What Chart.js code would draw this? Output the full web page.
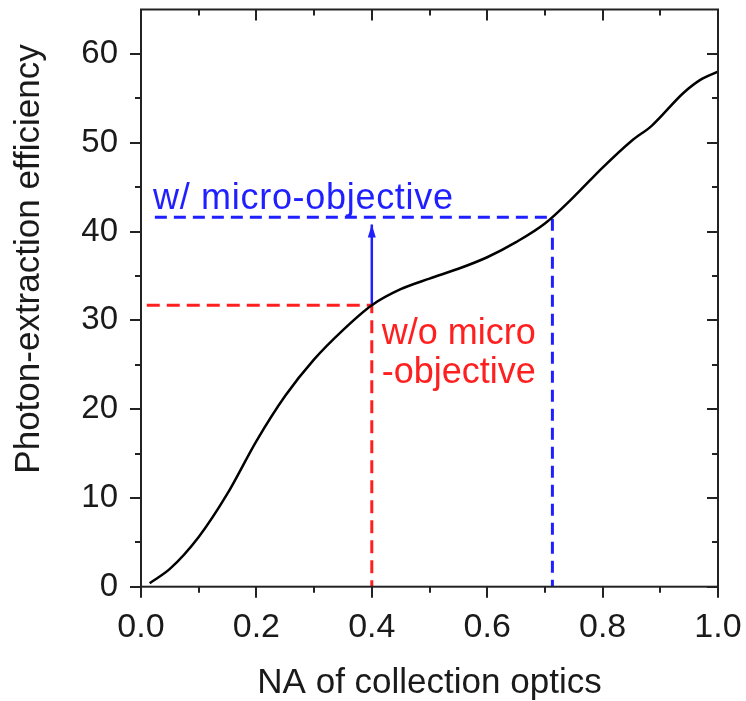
<!DOCTYPE html>
<html>
<head>
<meta charset="utf-8">
<script src="https://cdn.jsdelivr.net/npm/chart.js@4.4.1/dist/chart.umd.min.js"></script>
<style>
  html, body { margin: 0; padding: 0; background: #fff; }
  #wrap { width: 746px; height: 701px; position: relative; }
</style>
</head>
<body>
<div id="wrap"><canvas id="chart"></canvas></div>
<script>
// Collection NA vs. photon-extraction efficiency (%)
const naValues = [0.015, 0.05, 0.10, 0.15, 0.20, 0.25, 0.30, 0.35, 0.40, 0.45, 0.50, 0.55,
  0.60, 0.65, 0.70, 0.75, 0.80, 0.85, 0.885, 0.94, 0.97, 1.0];
const efficiency = [0.4, 2.0, 5.6, 10.5, 16.4, 21.5, 25.6, 28.9, 31.7, 33.5, 34.7, 35.8,
  37.1, 38.8, 40.9, 43.9, 47.2, 50.2, 51.9, 55.6, 57.1, 58.0];

// Axis ticks
const xTickValues = [0.0, 0.2, 0.4, 0.6, 0.8, 1.0];
const xMinorValues = [0.1, 0.3, 0.5, 0.7, 0.9];
const yTickValues = [0, 10, 20, 30, 40, 50, 60];
const yMinorValues = [5, 15, 25, 35, 45, 55];

// Guide lines: without / with the micro-objective
const withoutGuideX = [0.01, 0.40, 0.40];
const withoutGuideY = [31.7, 31.7, 0];
const withGuideX = [0.024, 0.713, 0.713];
const withGuideY = [41.6, 41.6, 0];
const arrowX = [0.40, 0.40];
const arrowY = [31.7, 40.8];

// Texts
const xTitle = 'NA of collection optics';
const yTitle = 'Photon-extraction efficiency';
const withLabel = 'w/ micro-objective';
const withoutLabel = ['w/o micro', '-objective'];

const RED = '#ff1f1f';
const BLUE = '#1f1fff';
const INK = '#1a1a1a';
const FONT = '"Liberation Sans", Arial, sans-serif';

const toPoints = (xs, ys) => xs.map((x, i) => ({ x, y: ys[i] }));

const frameAndTicks = {
  id: 'frameAndTicks',
  afterDraw(chart) {
    const { ctx, chartArea: a, scales: { x, y } } = chart;
    ctx.save();
    ctx.strokeStyle = '#222';
    ctx.lineWidth = 2;
    ctx.strokeRect(a.left, a.top, a.right - a.left, a.bottom - a.top);
    ctx.beginPath();
    const xt = (vals, len) => vals.forEach(v => {
      const p = Math.round(x.getPixelForValue(v));
      ctx.moveTo(p, a.bottom); ctx.lineTo(p, a.bottom + len);
      ctx.moveTo(p, a.top); ctx.lineTo(p, a.top + len);
    });
    const yt = (vals, len) => vals.forEach(v => {
      const p = Math.round(y.getPixelForValue(v));
      ctx.moveTo(a.left - len, p); ctx.lineTo(a.left, p);
      ctx.moveTo(a.right - len, p); ctx.lineTo(a.right, p);
    });
    xt(xTickValues, 11); xt(xMinorValues, 6);
    yt(yTickValues, 11); yt(yMinorValues, 6);
    ctx.stroke();

    // axis titles
    ctx.fillStyle = INK;
    ctx.font = '35px ' + FONT;
    ctx.textAlign = 'center';
    ctx.textBaseline = 'alphabetic';
    ctx.fillText(xTitle, (a.left + a.right) / 2, 693);
    ctx.translate(38.5, 259);
    ctx.rotate(-Math.PI / 2);
    ctx.fillText(yTitle, 0, 0);
    ctx.restore();
  }
};

const annotations = {
  id: 'annotations',
  afterDatasetsDraw(chart) {
    const { ctx, scales: { x, y } } = chart;
    ctx.save();
    // arrow head
    const ax = x.getPixelForValue(arrowX[1]);
    const ay = y.getPixelForValue(arrowY[1]);
    ctx.fillStyle = BLUE;
    ctx.beginPath();
    ctx.moveTo(ax, ay);
    ctx.lineTo(ax - 4, ay + 13);
    ctx.lineTo(ax + 4, ay + 13);
    ctx.closePath();
    ctx.fill();

    ctx.font = '36px ' + FONT;
    ctx.textAlign = 'left';
    ctx.textBaseline = 'alphabetic';
    // with micro-objective
    ctx.fillStyle = BLUE;
    if ('letterSpacing' in ctx) ctx.letterSpacing = '0.7px';
    ctx.fillText(withLabel, 153, y.getPixelForValue(withGuideY[0]) - 8.5);
    if ('letterSpacing' in ctx) ctx.letterSpacing = '0px';
    // without micro-objective
    ctx.fillStyle = RED;
    const rx = x.getPixelForValue(withoutGuideX[1]) + 10;
    const ry = y.getPixelForValue(withoutGuideY[0]);
    ctx.fillText(withoutLabel[0], rx, ry + 39);
    ctx.fillText(withoutLabel[1], rx, ry + 77.5);
    ctx.restore();
  }
};

const noOverhang = s => { s.paddingLeft = 0; s.paddingRight = 0; s.paddingTop = 0; s.paddingBottom = 0; };

new Chart(document.getElementById('chart'), {
  type: 'scatter',
  data: {
    datasets: [
      {
        data: toPoints(naValues, efficiency),
        showLine: true, borderColor: '#000', borderWidth: 2.5,
        pointRadius: 0, cubicInterpolationMode: 'monotone', order: 0
      },
      {
        data: toPoints(withoutGuideX, withoutGuideY),
        showLine: true, borderColor: RED, borderWidth: 3, borderDash: [13, 7],
        pointRadius: 0, tension: 0, order: 1
      },
      {
        data: toPoints(withGuideX, withGuideY),
        showLine: true, borderColor: BLUE, borderWidth: 3, borderDash: [12, 7],
        pointRadius: 0, tension: 0, order: 1
      },
      {
        data: toPoints(arrowX, arrowY),
        showLine: true, borderColor: BLUE, borderWidth: 2.5,
        pointRadius: 0, tension: 0, order: 2
      }
    ]
  },
  options: {
    responsive: true,
    maintainAspectRatio: false,
    animation: false,
    events: [],
    layout: { padding: { left: 0, right: 28, top: 9.5, bottom: 0 } },
    plugins: { legend: { display: false }, tooltip: { enabled: false } },
    scales: {
      x: {
        type: 'linear', min: 0, max: 1,
        grid: { display: false, drawTicks: false },
        border: { display: false },
        afterBuildTicks: s => { s.ticks = xTickValues.map(v => ({ value: v })); },
        afterFit: s => { s.height = 114.3; noOverhang(s); },
        ticks: {
          color: INK, padding: 21,
          font: { family: FONT, size: 34 },
          maxRotation: 0,
          callback: v => v.toFixed(1)
        }
      },
      y: {
        type: 'linear', min: 0, max: 65,
        grid: { display: false, drawTicks: false },
        border: { display: false },
        afterBuildTicks: s => { s.ticks = yTickValues.map(v => ({ value: v })); },
        afterFit: s => { s.width = 141; noOverhang(s); },
        ticks: {
          color: INK, padding: 23,
          font: { family: FONT, size: 33 },
          callback: v => String(v)
        }
      }
    }
  },
  plugins: [frameAndTicks, annotations]
});
</script>
</body>
</html>
